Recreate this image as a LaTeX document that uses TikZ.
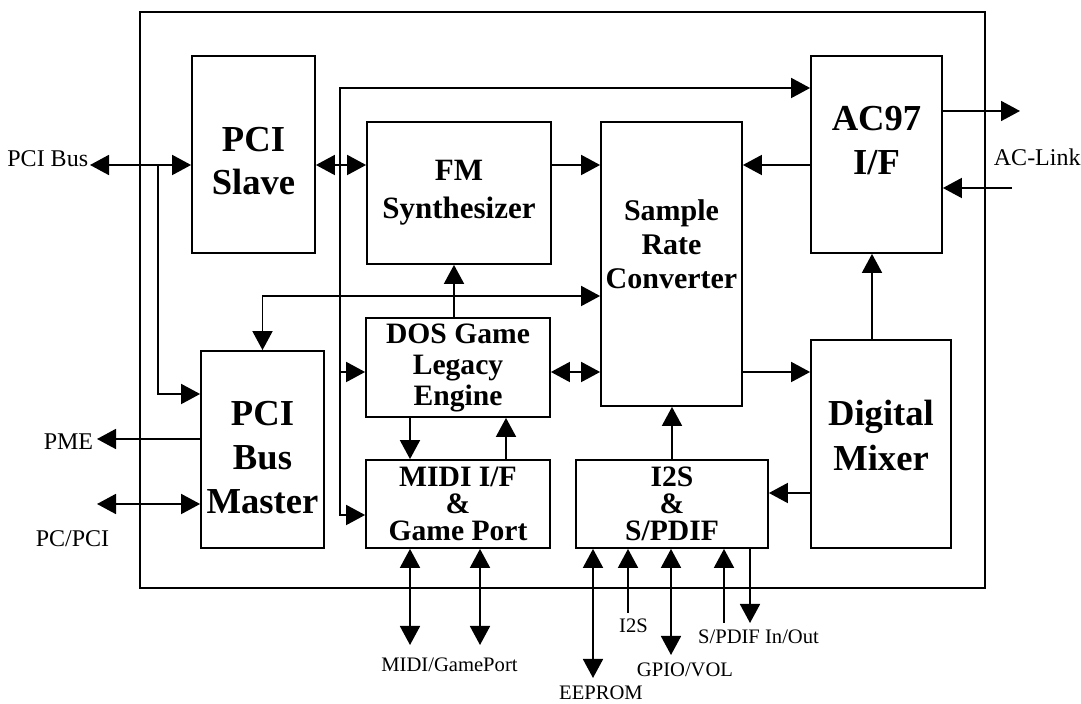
\documentclass[tikz,border=0pt]{standalone}
\usepackage{fontspec}
\setmainfont{Liberation Serif}
\usetikzlibrary{arrows.meta}

\tikzset{
  blk/.style={draw, inner sep=0pt, align=center},
  bigtxt/.style={font=\bfseries\fontsize{18.3}{22}\selectfont},
  smalltxt/.style={font=\bfseries\fontsize{15}{17}\selectfont},
  lbl/.style={inner sep=0pt, font=\fontsize{12}{14}\selectfont},
  pinlbl/.style={inner sep=0pt, anchor=base, font=\fontsize{10.3}{12}\selectfont},
  >={Triangle[length=9.5pt,width=10pt]},
}

\begin{document}
\begin{tikzpicture}[x=0.5pt, y=-0.5pt, line width=0.9pt]
\useasboundingbox (0,0) rectangle (1081,704);

% chip outline
\draw (140,12) rectangle (985,588);

% blocks
\node[blk, font=\bfseries\fontsize{18.3}{21.5}\selectfont, text height=40pt, minimum width=61.5pt, minimum height=98.5pt] (slave) at (253.5,154.5) {PCI\\Slave};
\node[blk, font=\bfseries\fontsize{15.5}{19}\selectfont, minimum width=92pt, minimum height=71pt] (fm) at (459,193) {FM\\Synthesizer};
\node[blk, smalltxt, text depth=20pt, minimum width=70.5pt, minimum height=142pt] (src) at (671.5,264) {Sample\\Rate\\Converter};
\node[blk, bigtxt, text depth=14pt, minimum width=65.5pt, minimum height=98.5pt] (ac97) at (876.5,154.5) {AC97\\I/F};
\node[blk, bigtxt, text height=64pt, minimum width=61.5pt, minimum height=98.5pt] (master) at (262.5,449.5) {PCI\\Bus\\Master};
\node[blk, font=\bfseries\fontsize{14.8}{15.5}\selectfont, minimum width=92pt, minimum height=49.5pt] (dos) at (458,367.5) {DOS Game\\Legacy\\Engine};
\node[blk, font=\bfseries\fontsize{14.8}{13.5}\selectfont, minimum width=92pt, minimum height=44pt] (midi) at (458,504) {MIDI I/F\\\&\\Game Port};
\node[blk, font=\bfseries\fontsize{14.8}{13.5}\selectfont, minimum width=96pt, minimum height=44pt] (i2s) at (672,504) {I2S\\\&\\S/PDIF};
\node[blk, font=\bfseries\fontsize{18.3}{22.5}\selectfont, text depth=9pt, minimum width=70pt, minimum height=104pt] (mixer) at (881,444) {Digital\\Mixer};

% pin ends
\coordinate (busin) at (90,165);
\coordinate (bustap) at (158,165);
\coordinate (slavetap) at (340,165);
\coordinate (acout) at (1020,111);
\coordinate (aclink) at (1012,188);
\coordinate (pme) at (97,439);
\coordinate (pcpci) at (97,504);
\coordinate (midiio) at (410,645);
\coordinate (gameio) at (480,645);
\coordinate (eeprom) at (593,678);
\coordinate (i2sin) at (628,613);
\coordinate (gpio) at (671,655);
\coordinate (spdifin) at (724,623);
\coordinate (spdifout) at (750,623);

% PCI side
\draw[<->] (busin) -- (busin -| slave.west);
\draw[->] (bustap) |- (master.west |- 0,394);
\draw[<->] (slave.east |- busin) -- (fm.west |- busin);
\draw[->] (slavetap) |- (ac97.west |- 0,88);
\draw[->] (slavetap) |- (midi.west |- 0,515);
\draw[->] (slavetap |- 0,372) -- (dos.west |- 0,372);
\draw[<->] (master.north) |- (src.west |- 0,296);
\draw[->] (master.west |- pme) -- (pme);
\draw[<->] (pcpci) -- (pcpci -| master.west);

% audio path
\draw[->] (fm.east |- busin) -- (src.west |- busin);
\draw[->] (ac97.west |- busin) -- (src.east |- busin);
\draw[->] (dos.north -| 454,0) -- (fm.south -| 454,0);
\draw[<->] (dos.east |- 0,372) -- (src.west |- 0,372);
\draw[->] (dos.south -| 410,0) -- (midi.north -| 410,0);
\draw[->] (midi.north -| 506,0) -- (dos.south -| 506,0);
\draw[->] (i2s.north) -- (src.south -| i2s.north);
\draw[->] (src.east |- 0,372) -- (mixer.west |- 0,372);
\draw[->] (mixer.north -| 872,0) -- (ac97.south -| 872,0);
\draw[->] (mixer.west |- 0,493) -- (i2s.east |- 0,493);
\draw[->] (ac97.east |- acout) -- (acout);
\draw[->] (aclink) -- (aclink -| ac97.east);

% bottom pins
\draw[<->] (midi.south -| midiio) -- (midiio);
\draw[<->] (midi.south -| gameio) -- (gameio);
\draw[<->] (i2s.south -| eeprom) -- (eeprom);
\draw[->] (i2sin) -- (i2sin |- i2s.south);
\draw[<->] (i2s.south -| gpio) -- (gpio);
\draw[->] (spdifin) -- (spdifin |- i2s.south);
\draw[->] (i2s.south -| spdifout) -- (spdifout);

% labels
\node[lbl, anchor=base east] (buslbl) at (89,167) {PCI Bus};
\node[lbl, anchor=base west] (aclinklbl) at (993,166) {AC-Link};
\node[lbl, anchor=base east] (pmelbl) at (94,450) {PME};
\node[lbl, anchor=base] (pcpcilbl) at (72.5,547) {PC/PCI};
\node[pinlbl] (midilbl) at (449.5,672) {MIDI/GamePort};
\node[pinlbl] (eepromlbl) at (601,699) {EEPROM};
\node[pinlbl] (i2slbl) at (633.5,633) {I2S};
\node[pinlbl] (gpiolbl) at (685,676) {GPIO/VOL};
\node[pinlbl] (spdiflbl) at (758.5,644) {S/PDIF In/Out};
\end{tikzpicture}
\end{document}
